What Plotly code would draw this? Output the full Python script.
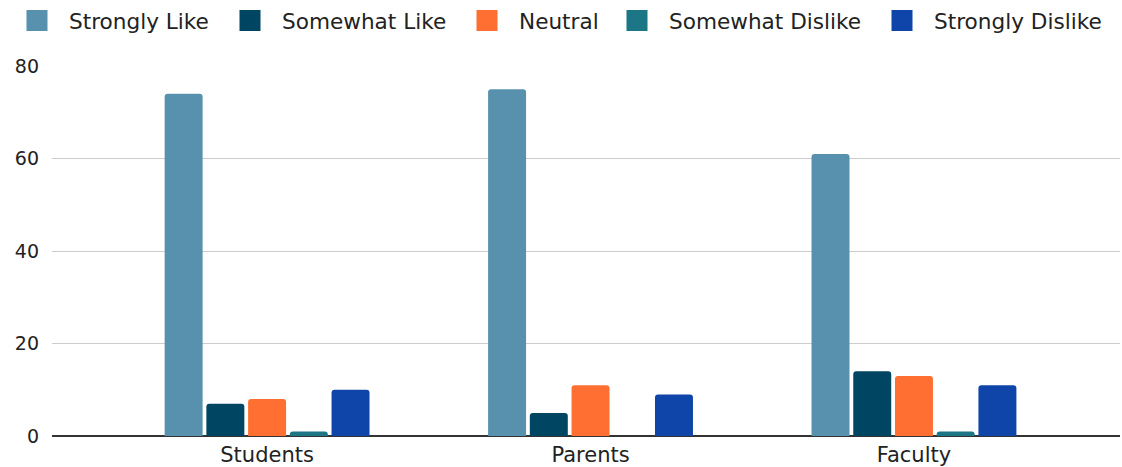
import plotly.graph_objects as go

categories = ["Students", "Parents", "Faculty"]
series_names = ["Strongly Like", "Somewhat Like", "Neutral", "Somewhat Dislike", "Strongly Dislike"]
strongly_like = [74, 75, 61]
somewhat_like = [7, 5, 14]
neutral = [8, 11, 13]
somewhat_dislike = [1, 0, 1]
strongly_dislike = [10, 9, 11]
colors = ["#5891AD", "#004561", "#FF6F31", "#1C7685", "#0F45A8"]
y_ticks = [0, 20, 40, 60, 80]

values = [strongly_like, somewhat_like, neutral, somewhat_dislike, strongly_dislike]

FONT = "DejaVu Sans, Verdana, sans-serif"
W, H = 1122, 467
legend_left_px = [5, 218, 455, 605, 870]

fig = go.Figure()
for name, vals, col in zip(series_names, values, colors):
    fig.add_trace(go.Bar(
        x=categories, y=vals, name=name, showlegend=False,
        marker=dict(color=col, cornerradius=3, line=dict(width=0)),
    ))
# legend entries with larger square swatches, each in its own legend
legend_layouts = {}
for i, (name, col) in enumerate(zip(series_names, colors)):
    key = "legend" if i == 0 else f"legend{i + 1}"
    fig.add_trace(go.Scatter(
        x=[None], y=[None], mode="markers", name=name, legend=key,
        marker=dict(symbol="square", size=23, color=col,
                    line=dict(color=col, width=6)),
    ))
    legend_layouts[key] = dict(
        orientation="h", xref="container", x=legend_left_px[i] / W, xanchor="left",
        yref="container", y=1.0, yanchor="top", bgcolor="rgba(0,0,0,0)",
        font=dict(family=FONT, size=21.6, color="#222222"), itemwidth=54,
    )

fig.update_layout(
    width=W, height=H,
    margin=dict(l=52, r=2, t=66, b=31),
    paper_bgcolor="white", plot_bgcolor="white",
    font=dict(family=FONT, size=19, color="#222222"),
    barmode="group", bargap=0.355, bargroupgap=0.09,
    xaxis=dict(range=[-0.665, 2.637], showgrid=False, ticks="", showline=False,
               ticklabelstandoff=4, automargin=False,
               tickfont=dict(family=FONT, size=21, color="#222222")),
    yaxis=dict(range=[0, 80], tickvals=y_ticks, showgrid=True, gridcolor="#CCCCCC",
               gridwidth=1, zeroline=True, zerolinecolor="#333333", zerolinewidth=1.5,
               automargin=False,
               ticklabelstandoff=12, tickfont=dict(family=FONT, size=19, color="#222222")),
    **legend_layouts,
)

fig.write_html("out.html")
